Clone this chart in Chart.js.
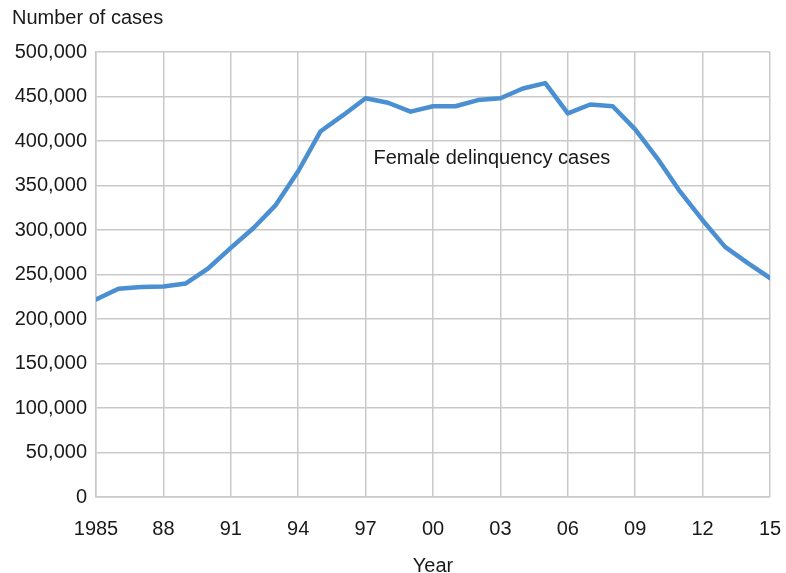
<!DOCTYPE html>
<html>
<head>
<meta charset="utf-8">
<script src="https://cdn.jsdelivr.net/npm/chart.js@4.4.1/dist/chart.umd.min.js"></script>
<style>
html,body{margin:0;padding:0;background:#fff;}
#wrap{width:786px;height:573px;position:relative;}
</style>
</head>
<body>
<div id="wrap"><canvas id="c"></canvas></div>
<script>
const years = [1985,1986,1987,1988,1989,1990,1991,1992,1993,1994,1995,1996,1997,1998,1999,2000,2001,2002,2003,2004,2005,2006,2007,2008,2009,2010,2011,2012,2013,2014,2015];
const cases = [222000,234000,236000,236500,240000,257000,280000,302000,328000,366000,411000,429000,448000,443000,433000,439000,439000,446000,448000,459000,465000,431000,441000,439000,413000,380000,343000,311000,281000,263000,246000];
const xTicks = [1985,1988,1991,1994,1997,2000,2003,2006,2009,2012,2015];
const yTicks = [0,50000,100000,150000,200000,250000,300000,350000,400000,450000,500000];
const yTitle = "Number of cases";
const xTitle = "Year";
const seriesLabel = "Female delinquency cases";

const FONT = "'Liberation Sans', Arial, Helvetica, sans-serif";

const textPlugin = {
  id: 'texts',
  afterDraw(chart) {
    const ctx = chart.ctx;
    const ca = chart.chartArea;
    ctx.save();
    ctx.fillStyle = '#1a1a1a';
    ctx.font = '20px ' + FONT;
    ctx.textBaseline = 'middle';
    ctx.textAlign = 'left';
    ctx.fillText(yTitle, 12, 18);
    ctx.textAlign = 'center';
    ctx.fillText(xTitle, (ca.left + ca.right) / 2, 566);
    const xs = chart.scales.x, ys = chart.scales.y;
    ctx.textAlign = 'left';
    ctx.fillText(seriesLabel, xs.getPixelForValue(1997.35), ys.getPixelForValue(380000));
    ctx.restore();
  }
};

new Chart(document.getElementById('c'), {
  type: 'line',
  data: {
    datasets: [{
      label: seriesLabel,
      data: years.map((y, i) => ({x: y, y: cases[i]})),
      borderColor: '#4a8fd2',
      borderWidth: 4.5,
      pointRadius: 0,
      fill: false,
      tension: 0,
      borderJoinStyle: 'round',
      borderCapStyle: 'round'
    }]
  },
  options: {
    responsive: true,
    maintainAspectRatio: false,
    animation: false,
    events: [],
    layout: {padding: {left: 0, right: 16, top: 52, bottom: 0}},
    plugins: {legend: {display: false}, tooltip: {enabled: false}},
    scales: {
      x: {
        type: 'linear',
        min: 1985, max: 2015,
        afterBuildTicks(scale) { scale.ticks = xTicks.map(v => ({value: v})); },
        afterFit(scale) { scale.height = 76; scale.paddingRight = 0; scale.paddingLeft = 0; },
        grid: {color: '#c9c9c9', lineWidth: 1.5, drawTicks: false},
        border: {color: '#c9c9c9', width: 1.5},
        ticks: {
          padding: 20,
          color: '#1a1a1a',
          font: {family: FONT, size: 20},
          maxRotation: 0,
          autoSkip: false,
          callback: v => v === 1985 ? '1985' : String(v % 100).padStart(2, '0')
        }
      },
      y: {
        min: 0, max: 500000,
        afterBuildTicks(scale) { scale.ticks = yTicks.map(v => ({value: v})); },
        afterFit(scale) { scale.width = 96; scale.paddingTop = 0; scale.paddingBottom = 0; },
        grid: {color: '#c9c9c9', lineWidth: 1.5, drawTicks: false},
        border: {color: '#c9c9c9', width: 1.5},
        ticks: {
          padding: 9,
          color: '#1a1a1a',
          font: {family: FONT, size: 20},
          callback: v => v.toLocaleString('en-US')
        }
      }
    }
  },
  plugins: [textPlugin]
});
</script>
</body>
</html>
